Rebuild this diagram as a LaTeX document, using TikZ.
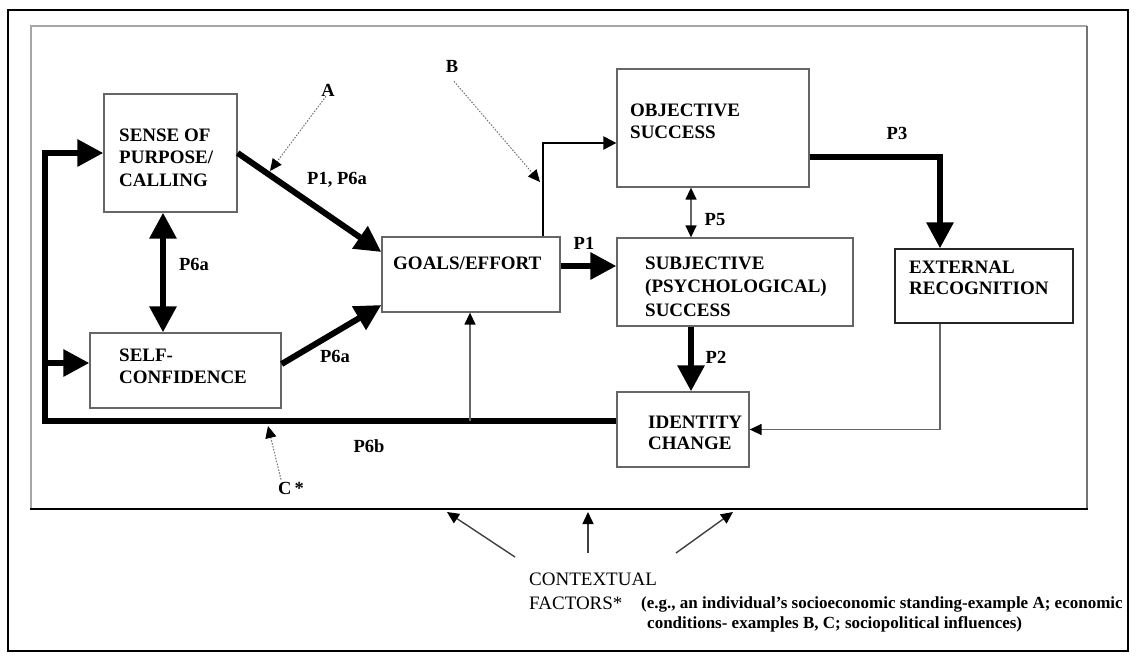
\documentclass[tikz,border=0pt]{standalone}
\usepackage{fontspec}
\setmainfont{Liberation Serif}
\usetikzlibrary{arrows.meta}
\tikzset{
  box/.style={draw=black!60, line width=1.3pt, inner sep=0pt, fill=none},
  boxtxt/.style={anchor=base west, inner sep=0pt, align=left, font=\bfseries\fontsize{19}{22.5}\selectfont},
  lab/.style={inner sep=0pt, font=\bfseries\fontsize{18.5}{20}\selectfont},
  heavy/.style={line width=6pt, -{Triangle[length=26pt,width=26pt]}},
  heavyboth/.style={line width=6pt, {Triangle[length=26pt,width=26pt]}-{Triangle[length=26pt,width=26pt]}},
  medium/.style={line width=2.4pt, -{Triangle[length=13pt,width=13pt]}},
  thinarr/.style={draw=black!60, line width=1.4pt, -{Triangle[length=12pt,width=11pt,fill=black,color=black]}},
  thinboth/.style={draw=black!60, line width=1.4pt, {Triangle[length=12pt,width=11pt,fill=black,color=black]}-{Triangle[length=12pt,width=11pt,fill=black,color=black]}},
  dotarr/.style={draw=black!55, line width=1pt, dash pattern=on 1.5pt off 1.5pt, -{Triangle[length=12pt,width=11pt,fill=black,color=black]}},
  ctxarr/.style={draw=black!75, line width=1.4pt, -{Triangle[length=12pt,width=11pt,fill=black,color=black]}},
}
\begin{document}
\begin{tikzpicture}[x=1pt,y=-1pt]
\useasboundingbox (0,0) rectangle (1136,659);
\fill[white] (0,0) rectangle (1136,659);
% outer frame
\draw[line width=2pt] (8,10) rectangle (1128,651);
% inner frame
\draw[black!35, line width=1.8pt] (31,509) -- (31,26) -- (1087,26);
\draw[black!55, line width=2pt] (1087,26) -- (1087,509);
\draw[black, line width=2.2pt] (30,509) -- (1088,509);

% boxes
\node[box, minimum width=133pt, minimum height=118pt] (sense) at (170.5,153) {};
\node[box, minimum width=191pt, minimum height=75pt] (self) at (185.5,370.5) {};
\node[box, minimum width=178pt, minimum height=75pt] (goals) at (471,274.5) {};
\node[box, minimum width=192pt, minimum height=118pt] (obj) at (713,128) {};
\node[box, minimum width=236pt, minimum height=88pt] (subj) at (735,282) {};
\node[box, draw=black!85, minimum width=178pt, minimum height=74pt] (ext) at (984,286) {};
\node[box, minimum width=132pt, minimum height=75pt] (ident) at (683,429.5) {};

% box texts (anchor = baseline of last line)
\node[boxtxt] (tsense) at (119,186) {SENSE OF\\PURPOSE/\\CALLING};
\node[boxtxt] (tself) at (119,383.5) {SELF-\\CONFIDENCE};
\node[boxtxt] (tgoals) at (393,269) {GOALS/EFFORT};
\node[boxtxt] (tobj) at (630,138.5) {OBJECTIVE\\SUCCESS};
\node[boxtxt, font=\bfseries\fontsize{19}{23.5}\selectfont] (tsubj) at (645,316) {SUBJECTIVE\\(PSYCHOLOGICAL)\\SUCCESS};
\node[boxtxt, font=\bfseries\fontsize{19}{21}\selectfont] (text) at (909,294) {EXTERNAL\\RECOGNITION};
\node[boxtxt, font=\bfseries\fontsize{19}{21.5}\selectfont] (tident) at (648,449.5) {IDENTITY\\CHANGE};

% coordinates
\coordinate (lc) at (45,421);
\coordinate (lb) at (45,363);
\coordinate (gb) at (470,421);
\coordinate (p6x) at (163,0);
\coordinate (p5x) at (691,0);
\coordinate (p3x) at (940,0);

% feedback loop
\draw[heavy] ([yshift=8.5pt]ident.west) -- (lc) |- (sense.west);
\draw[heavy] (lb) -- (self.west |- lb);
\draw[thinarr] (gb) -- (gb |- goals.south);

% main arrows
\draw[heavyboth] (sense.south -| p6x) -- (self.north -| p6x);
\draw[heavy] (sense.east) -- ([yshift=22.5pt]goals.west);
\draw[heavy] ([yshift=6.5pt]self.east) -- ([yshift=-30.5pt]goals.west);
\draw[heavy] ([yshift=8.5pt]goals.east) -- ([yshift=8.5pt]goals.east -| subj.west);
\draw[medium] ([xshift=72pt]goals.north) |- ([yshift=-15pt]obj.west);
\draw[thinboth] (obj.south -| p5x) -- (subj.north -| p5x);
\draw[heavy] ([yshift=-29pt]obj.east) -| (p3x |- ext.north);
\draw[heavy] (subj.south -| p5x) -- (ident.north -| p5x);
\draw[thinarr] (p3x |- ext.south) |- (ident.east);

% influence labels with dotted arrows
\node[lab] (A) at (328,90) {A};
\node[lab] (B) at (452,66) {B};
\node[lab] (C) at (291,488) {C\,*};
\coordinate (tipA) at (270,171);
\coordinate (tipB) at (540,182);
\coordinate (tipC) at (268,426);
\draw[dotarr] ([xshift=-2pt]A.south) -- (tipA);
\draw[dotarr] ([xshift=2pt,yshift=-9pt]B.south) -- (tipB);
\draw[dotarr] ([xshift=-10pt,yshift=2pt]C.north) -- (tipC);

% path labels
\node[lab] (l1) at (337,180) {P1, P6a};
\node[lab] (l2) at (194,264) {P6a};
\node[lab] (l3) at (335,356) {P6a};
\node[lab] (l4) at (369,446) {P6b};
\node[lab] (l5) at (584,243) {P1};
\node[lab] (l6) at (715,220) {P5};
\node[lab] (l7) at (897,133) {P3};
\node[lab] (l8) at (716,357) {P2};

% contextual factors
\node[anchor=base west, inner sep=0pt, align=left, font=\fontsize{19}{24}\selectfont] (ctx) at (529,609) {CONTEXTUAL\\FACTORS*};
\node[anchor=base west, inner sep=0pt, align=left, font=\bfseries\fontsize{17}{20}\selectfont] (ctxd) at (641,628) {(e.g., an individual's socioeconomic standing-example A; economic\\\hspace*{6pt}conditions- examples B, C; sociopolitical influences)};
\coordinate (c1t) at (515,557);
\coordinate (c1h) at (447,512);
\coordinate (c2t) at (588,553);
\coordinate (c2h) at (588,512);
\coordinate (c3t) at (676,553);
\coordinate (c3h) at (733,512);
\draw[ctxarr] (c1t) -- (c1h);
\draw[ctxarr] (c2t) -- (c2h);
\draw[ctxarr] (c3t) -- (c3h);
\end{tikzpicture}
\end{document}
